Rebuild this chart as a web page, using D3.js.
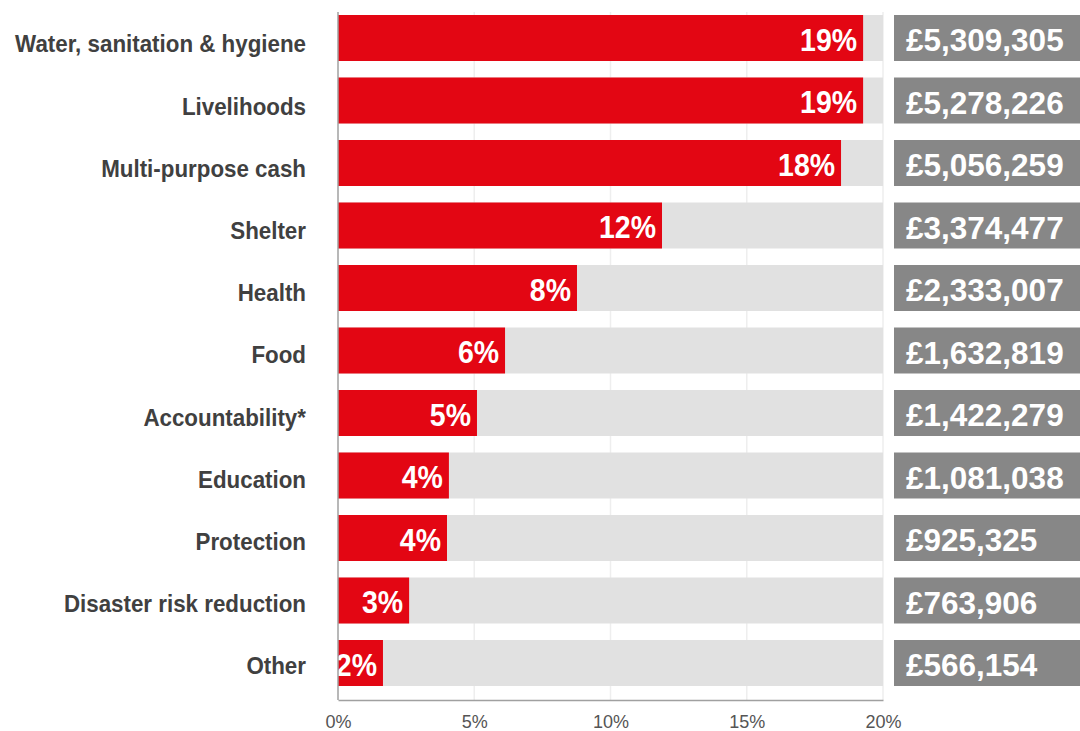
<!DOCTYPE html>
<html>
<head>
<meta charset="utf-8">
<script src="https://cdn.jsdelivr.net/npm/d3@7"></script>
<style>
  body { margin: 0; background: #fff; }
  .cat { font-family: "Liberation Sans", Arial, sans-serif; font-weight: bold; fill: #404040; }
  .pct { font-family: "Liberation Sans", Arial, sans-serif; font-weight: bold; fill: #fff; }
  .amt { font-family: "Liberation Sans", Arial, sans-serif; font-weight: bold; fill: #fff; }
</style>
</head>
<body>
<script>
// chart data
const categories = ['Water, sanitation & hygiene', 'Livelihoods', 'Multi-purpose cash', 'Shelter', 'Health',
  'Food', 'Accountability*', 'Education', 'Protection', 'Disaster risk reduction', 'Other'];
const shares = [19.27, 19.27, 18.46, 11.89, 8.77, 6.13, 5.10, 4.07, 4.00, 2.61, 1.65];
const shareLabels = ['19%', '19%', '18%', '12%', '8%', '6%', '5%', '4%', '4%', '3%', '2%'];
const amounts = ['£5,309,305', '£5,278,226', '£5,056,259', '£3,374,477', '£2,333,007', '£1,632,819',
  '£1,422,279', '£1,081,038', '£925,325', '£763,906', '£566,154'];
const tickValues = [0, 5, 10, 15, 20];

let width = 1080, height = 731;
let svg = d3.select('body').append('svg')
  .attr('width', width)
  .attr('height', height);

let x = d3.scaleLinear().domain([0, 20]).range([338, 883]);
let y = d3.scaleBand().domain(categories).range([15, 686]).paddingInner(0.264).paddingOuter(0);

let rows = categories.map((c, i) => ({ cat: c, share: shares[i], label: shareLabels[i], amount: amounts[i] }));

//Gridlines
svg.append('g')
  .selectAll('line')
  .data(tickValues.slice(1))
  .enter().append('line')
  .attr('x1', d => x(d)).attr('x2', d => x(d))
  .attr('y1', 12).attr('y2', 700)
  .attr('stroke', '#eeeeee')
  .attr('stroke-width', 1.5);

//Grey track behind each bar
svg.append('g')
  .selectAll('rect')
  .data(rows)
  .enter().append('rect')
  .attr('x', x(0))
  .attr('y', d => y(d.cat))
  .attr('width', x(20) - x(0))
  .attr('height', y.bandwidth())
  .attr('fill', '#e1e1e1');

svg.append('g')
  .selectAll('rect')
  .data(rows)
  .enter().append('rect')
  .attr('x', x(0))
  .attr('y', d => y(d.cat))
  .attr('width', d => x(d.share) - x(0))
  .attr('height', y.bandwidth())
  .attr('fill', '#e30613');

//Percent labels, a bit condensed like the original face
svg.append('g')
  .selectAll('text')
  .data(rows)
  .enter().append('text')
  .attr('class', 'pct')
  .attr('text-anchor', 'end')
  .attr('dy', '0.36em')
  .attr('transform', d => 'translate(' + (x(d.share) - 6) + ',' + (y(d.cat) + y.bandwidth() / 2 + 1) + ') scale(0.89,1)')
  .style('font-size', '32px')
  .text(d => d.label);

//Category labels
let catG = svg.append('g');
let cats = catG.selectAll('text')
  .data(rows)
  .enter().append('text')
  .attr('class', 'cat')
  .attr('text-anchor', 'end')
  .attr('dy', '0.36em')
  .style('font-size', '23.5px')
  .text(d => d.cat);

let widest = cats.nodes()[0].getComputedTextLength();
let squeeze = Math.min(1, 291 / widest);
cats.attr('transform', (d, i) => 'translate(306,' + (y(d.cat) + y.bandwidth() / 2 + 6 - i * 0.3) + ') scale(' + squeeze + ',1)');

//Amount boxes on the right
let boxes = svg.append('g')
  .selectAll('g')
  .data(rows)
  .enter().append('g');

boxes.append('rect')
  .attr('x', 894)
  .attr('y', d => y(d.cat))
  .attr('width', width - 894)
  .attr('height', y.bandwidth())
  .attr('fill', '#878787');

boxes.append('text')
  .attr('class', 'amt')
  .attr('x', 906)
  .attr('y', d => y(d.cat) + y.bandwidth() / 2 + 2)
  .attr('dy', '0.36em')
  .style('font-size', '31.5px')
  .text(d => d.amount);

//Axes
let xAxis = svg.append('g')
  .attr('transform', 'translate(0,700)')
  .call(d3.axisBottom(x).tickValues(tickValues).tickSize(0).tickPadding(15).tickFormat(d => d + '%'));
xAxis.select('.domain').attr('stroke', '#a0a0a0').attr('stroke-width', 1.5);
xAxis.selectAll('.tick text')
  .attr('font-size', 18)
  .attr('font-family', '"Liberation Sans", Arial, sans-serif')
  .attr('fill', '#555');

svg.append('line')
  .attr('x1', x(0)).attr('x2', x(0))
  .attr('y1', 12).attr('y2', 700)
  .attr('stroke', '#a0a0a0')
  .attr('stroke-width', 1.5);
</script>
</body>
</html>
